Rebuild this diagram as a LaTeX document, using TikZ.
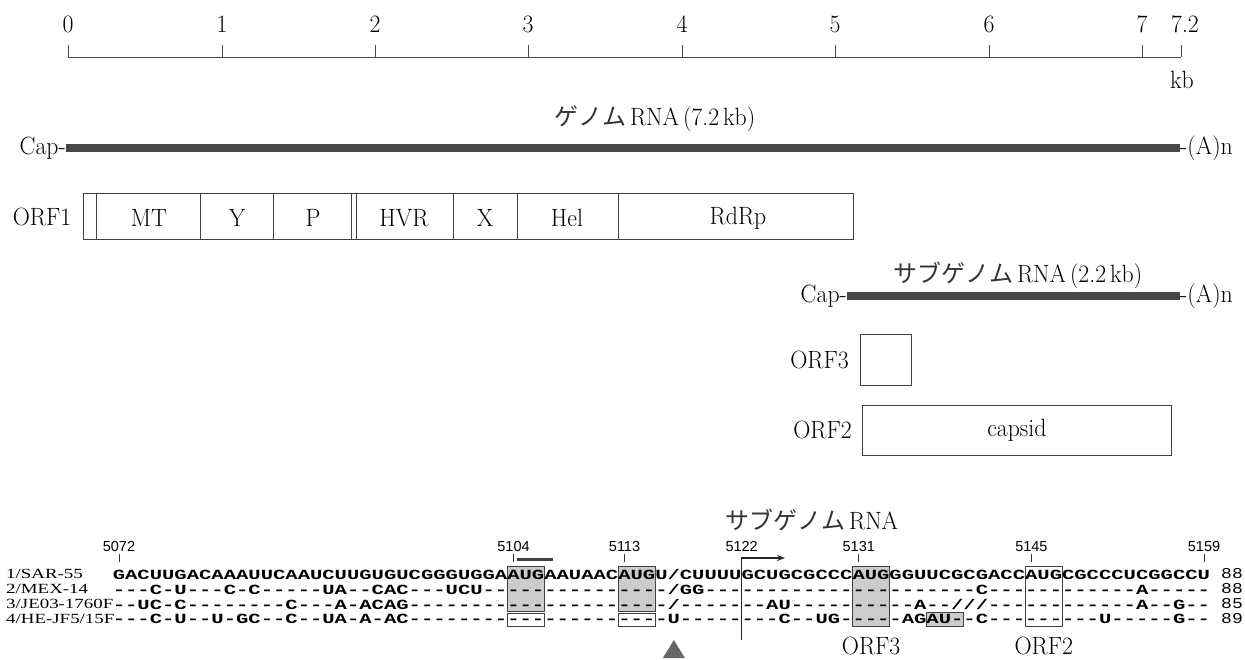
\documentclass[tikz,border=0pt]{standalone}
\usepackage{fontspec}
\usepackage{graphicx}
\usetikzlibrary{arrows.meta}
\setmonofont{Liberation Mono}
\setsansfont{Liberation Sans}
\newfontfamily\jpfont{Noto Sans CJK JP}
\newfontfamily\rowfont{Liberation Serif}
\newcommand\T[1]{\scalebox{0.95}[1]{#1}}
\newcommand\JP[1]{{\jpfont\fontsize{24}{26}\selectfont\color{black!80}#1}}
\newcommand\seqrow[1]{\scalebox{1.4676}[1]{\fontsize{14}{14}\selectfont\ttfamily\bfseries #1}}
\newcommand\lenlab[1]{\scalebox{1.2}[1]{\fontsize{15}{15}\selectfont\ttfamily #1}}
\ExplSyntaxOn
\cs_new:Npn \dsh #1 { \prg_replicate:nn {#1} {-} }
\ExplSyntaxOff
\begin{document}
\begin{tikzpicture}[x=1pt,y=-1pt,
  lab/.style={inner sep=0pt, font=\fontsize{25}{28}\selectfont},
  frame/.style={draw=black!75, line width=0.9pt},
  rna/.style={line width=8pt, draw=black!72},
  shade/.style={frame, fill=black!20},
  seq/.style={anchor=west, inner sep=0pt, outer sep=0pt},
  posnum/.style={inner sep=0pt, font=\fontsize{14.5}{14.5}\selectfont\sffamily},
  rowlab/.style={anchor=west, inner sep=0pt, font=\fontsize{14}{14}\selectfont\rowfont},
  axisline/.style={draw=black!70, line width=0.8pt},
  postick/.style={draw=black!80, line width=0.8pt}]
\useasboundingbox (0,0) rectangle (1245,659);

% ---- kb scale ----
\draw[axisline] (68,57) -- (1181,57);
\foreach \n/\x/\t in {a/68/0,b/222/1,c/375/2,d/528/3,e/682/4,f/835/5,g/989/6,h/1142/7}{
  \draw[axisline] (\x,57) -- (\x,45);
  \node[lab] (t\n) at (\x,24) {\T{\t}};
}
\draw[axisline] (1181,57) -- (1181,45);
\node[lab] (ti) at (1185,24) {\T{7.2}};
\node[lab] (kb) at (1182,80) {\T{kb}};

% ---- genome RNA ----
\node[lab] (gtitle) at (655,119) {\JP{ゲノム}\hspace{4pt}\T{RNA\,(7.2\,kb)}};
\node[lab, anchor=east] (gcap) at (66,148) {\T{Cap-}};
\node[lab, anchor=west] (gpa) at (1180,148) {\T{-(A)n}};
\draw[rna] (gcap.east) -- (gpa.west);

% ---- ORF1 ----
\node[lab] (orf1) at (42,217) {\T{ORF1}};
\draw[frame] (83,193) rectangle (853,239);
\foreach \x in {96,200,273,351,356,453,517,618}{\draw[frame] (\x,193) -- (\x,239);}
\node[lab] (mt) at (149,218) {\T{MT}};
\node[lab] (yy) at (237,218) {\T{Y}};
\node[lab] (pp) at (313,218) {\T{P}};
\node[lab] (hvr) at (404,218) {\T{HVR}};
\node[lab] (xx) at (485,218) {\T{X}};
\node[lab] (hel) at (567,218) {\T{Hel}};
\node[lab] (rdrp) at (738,218) {\T{RdRp}};

% ---- subgenomic RNA ----
\node[lab] (stitle) at (1018,275) {\JP{サブゲノム}\hspace{4pt}\T{RNA\,(2.2\,kb)}};
\node[lab, anchor=east] (scap) at (847,296) {\T{Cap-}};
\node[lab, anchor=west] (spa) at (1180,296) {\T{-(A)n}};
\draw[rna] (scap.east) -- (spa.west);

\node[lab, anchor=east] (orf3) at (849,360) {\T{ORF3}};
\node[frame, minimum width=50.5pt, minimum height=51pt, inner sep=0pt] (orf3box) at (885.8,360) {};
\node[lab, anchor=east] (orf2) at (852,430) {\T{ORF2}};
\node[frame, lab, minimum width=308.3pt, minimum height=50pt] (orf2box) at (1016.9,430) {\T{capsid}};

% ---- bottom: sequence alignment ----
\node[lab] (sgl) at (812,520) {\JP{サブゲノム}\hspace{4pt}\T{RNA}};

% shaded / framed codon boxes (behind the text)
\draw[shade] ({119+12.33*31.5},566) rectangle ({119+12.33*34.5},611);
\draw[frame] ({119+12.33*31.5},613) rectangle ({119+12.33*34.5},626);
\draw[shade] ({119+12.33*40.5},566) rectangle ({119+12.33*43.5},611);
\draw[frame] ({119+12.33*40.5},613) rectangle ({119+12.33*43.5},626);
\draw[shade] ({119+12.33*59.5},566) rectangle ({119+12.33*62.5},626);
\draw[frame] ({119+12.33*73.5},566) rectangle ({119+12.33*76.5},626);
\draw[shade] ({119+12.33*65.5},612) rectangle ({119+12.33*68.5},626);

% position numbers and ticks
\foreach \n/\i in {5072/0,5104/32,5113/41,5131/60,5145/74,5159/88}{
  \node[posnum] (p\n) at ({119+12.33*\i},547) {\n};
  \draw[postick] ({119+12.33*\i},554) -- ({119+12.33*\i},562);
}
\node[posnum] (p5122) at ({119+12.33*50.5},547) {5122};
\draw[line width=3pt, black!75] ({119+12.33*32.3},559) -- ({119+12.33*35.2},559);

% transcription start arrow
\coordinate (vtop) at ({119+12.33*50.5},558);
\coordinate (vbot) at ({119+12.33*50.5},640);
\coordinate (atip) at (785,558);
\draw[line width=1.1pt, black!85, -{Stealth[length=8pt,width=6pt]}] (vbot) -- (vtop) -- (atip);

% row labels
\node[rowlab] (l1) at (6,574) {\scalebox{1.35}[1]{1/SAR-55}};
\node[rowlab] (l2) at (6,589) {\scalebox{1.35}[1]{2/MEX-14}};
\node[rowlab] (l3) at (6,604) {\scalebox{1.35}[1]{3/JE03-1760F}};
\node[rowlab] (l4) at (6,619) {\scalebox{1.35}[1]{4/HE-JF5/15F}};

% sequences
\node[seq] (s1) at ({119-6.165},574) {\seqrow{GACUUGACAAAUUCAAUCUUGUGUCGGGUGGAAUGAAUAACAUGU/CUUUUGCUGCGCCCAUGGGUUCGCGACCAUGCGCCCUCGGCCU}};
\node[seq] (s2) at ({119-6.165},589) {\seqrow{---C-U---C-C-----UA--CAC---UCU\dsh{15}/GG\dsh{22}C\dsh{12}A\dsh{5}}};
\node[seq] (s3) at ({119-6.165},604) {\seqrow{--UC-C--------C---A-ACAG\dsh{21}/\dsh{7}AU\dsh{10}A--///\dsh{12}A--G--}};
\node[seq] (s4) at ({119-6.165},619) {\seqrow{---C-U--U-GC--C--UA-A-AC\dsh{21}U\dsh{8}C--UG\dsh{5}AGAU--C\dsh{9}U\dsh{5}G--}};

% lengths
\node[inner sep=0pt] (n1) at (1232,574) {\lenlab{88}};
\node[inner sep=0pt] (n2) at (1232,589) {\lenlab{88}};
\node[inner sep=0pt] (n3) at (1232,604) {\lenlab{85}};
\node[inner sep=0pt] (n4) at (1232,619) {\lenlab{89}};

% deletion marker and ORF labels
\fill[black!60] ({119+12.33*45},640) -- ({119+12.33*45-11},658) -- ({119+12.33*45+11},658) -- cycle;
\node[lab] (o3) at ({119+12.33*61},646) {\T{ORF3}};
\node[lab] (o2) at ({119+12.33*75},646) {\T{ORF2}};
\end{tikzpicture}
\end{document}
